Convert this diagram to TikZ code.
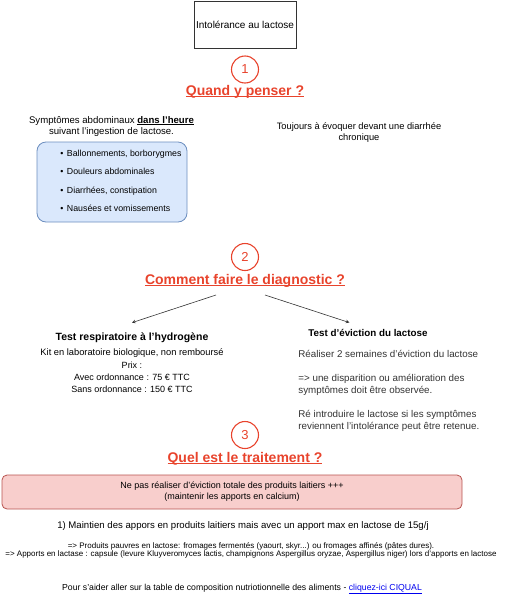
\documentclass[tikz,border=0pt]{standalone}
\usepackage{fontspec}
\setmainfont{Liberation Sans}
\usepackage{xcolor}
\usetikzlibrary{positioning,arrows.meta}

\definecolor{stepred}{RGB}{232,67,44}
\definecolor{blueback}{HTML}{DAE8FC}
\definecolor{blueline}{HTML}{6C8EBF}
\definecolor{redback}{HTML}{F8CECC}
\definecolor{redline}{HTML}{B85450}
\definecolor{bodygray}{HTML}{333333}
\definecolor{linkblue}{RGB}{0,0,238}

% underline with a rule of given thickness
\newcommand{\thickul}[2][0.5pt]{\setbox0\hbox{#2}\rlap{\rule[-1.8pt]{\wd0}{#1}}\box0}

\begin{document}
\begin{tikzpicture}[x=1pt, y=-1pt, >=stealth, thick,
  txt/.style={font=\fontsize{9.3}{11}\selectfont, align=center, inner sep=0pt, anchor=base},
  bigtxt/.style={font=\fontsize{9.8}{12}\selectfont, text=bodygray, align=left, inner sep=0pt, anchor=base west},
  itemtxt/.style={font=\fontsize{8.8}{10}\selectfont, inner sep=0pt, anchor=base west},
  num/.style={circle, draw=stepred, line width=1.1pt, text=stepred, minimum size=27pt, inner sep=0pt, font=\fontsize{13}{15}\selectfont},
  heading/.style={text=stepred, font=\fontsize{14}{16}\selectfont\bfseries, inner sep=0pt, anchor=base},
  testtitle/.style={inner xsep=2pt}]

\useasboundingbox (0,0) rectangle (507,600);

% title
\node[draw=bodygray, line width=0.8pt, minimum width=102, minimum height=47, inner sep=0pt, font=\fontsize{10}{12}\selectfont] (title) at (245,24.5) {Intolérance au lactose};

% 1
\node[num] (n1) at (245,69.5) {1};
\node[heading] (q1) at (245,95) {\thickul[1.1pt]{Quand y penser ?}};

\node[txt, font=\fontsize{9.6}{11}\selectfont] (symp) at (111.5,134) {Symptômes abdominaux \textbf{\thickul{dans l'heure}}\\suivant l'ingestion de lactose.};
\node[draw=blueline, fill=blueback, line width=0.8pt, rounded corners=9pt, minimum width=150, minimum height=80] (sympbox) at (112,182) {};
\node[itemtxt] (b1) at (60,156) {\textbullet\hspace{3.5pt}Ballonnements, borborygmes};
\node[itemtxt] (b2) at (60,174.5) {\textbullet\hspace{3.5pt}Douleurs abdominales};
\node[itemtxt] (b3) at (60,193) {\textbullet\hspace{3.5pt}Diarrhées, constipation};
\node[itemtxt] (b4) at (60,211.5) {\textbullet\hspace{3.5pt}Nausées et vomissements};

\node[txt] (chron) at (359,140) {Toujours à évoquer devant une diarrhée\\chronique};

% 2
\node[num] (n2) at (245,257) {2};
\node[heading] (q2) at (245,284) {\thickul[1.1pt]{Comment faire le diagnostic ?}};

\coordinate (fromL) at (216,295);
\coordinate (fromR) at (265,295);

\node[testtitle, inner ysep=9.8pt, font=\fontsize{10.5}{12}\selectfont\bfseries] (respi) at (132,337.8) {Test respiratoire à l'hydrogène};
\node[txt] (kit) at (132,355) {Kit en laboratoire biologique, non remboursé};
\node[txt, font=\fontsize{9}{12}\selectfont] (prix) at (132,392) {Prix :\\Avec ordonnance : 75 € TTC\\Sans ordonnance : 150 € TTC};

\node[testtitle, inner ysep=6.3pt, font=\fontsize{9.8}{12}\selectfont\bfseries] (evic) at (368,332.9) {Test d'éviction du lactose};
\node[bigtxt] (evictxt) at (298,429.5) {Réaliser 2 semaines d'éviction du lactose\\[12pt]
  => une disparition ou amélioration des\\symptômes doit être observée.\\[12pt]
  Ré introduire le lactose si les symptômes\\reviennent l'intolérance peut être retenue.};

\draw[->, bodygray, line width=0.6pt] (fromL) -- (respi.north);
\draw[->, bodygray, line width=0.6pt] (fromR) -- (evic.151);

% 3
\node[num] (n3) at (245,435) {3};
\node[heading] (q3) at (245,462) {\thickul[1.1pt]{Quel est le traitement ?}};

\node[draw=redline, fill=redback, line width=0.8pt, rounded corners=5pt, minimum width=460, minimum height=34, align=center, font=\fontsize{9}{11}\selectfont] (advice) at (232,492) {Ne pas réaliser d'éviction totale des produits laitiers +++\\(maintenir les apports en calcium)};

\node[txt, font=\fontsize{9.6}{11}\selectfont] (keep) at (243,528) {1) Maintien des appors en produits laitiers mais avec un apport max en lactose de 15g/j};
\node[txt, font=\fontsize{8}{8.5}\selectfont] (foods) at (251,556.5) {=> Produits pauvres en lactose: fromages fermentés (yaourt, skyr...) ou fromages affinés (pâtes dures).\\=> Apports en lactase : capsule (levure Kluyveromyces lactis, champignons Aspergillus oryzae, Aspergillus niger) lors d'apports en lactose};

\node[txt, font=\fontsize{8.7}{10}\selectfont] (ciqual) at (242,590) {Pour s'aider aller sur la table de composition nutriotionnelle des aliments - \textcolor{linkblue}{\underline{cliquez-ici CIQUAL}}};

\end{tikzpicture}
\end{document}
